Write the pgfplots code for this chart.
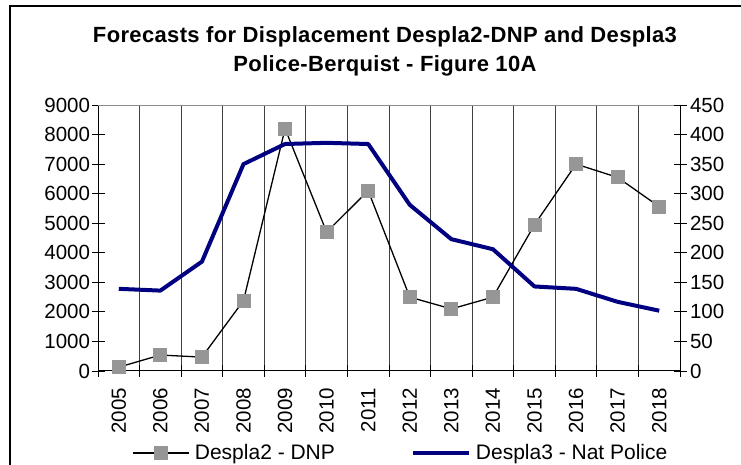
\documentclass[border=0pt]{standalone}
\usepackage{fontspec}
\setmainfont{Liberation Sans}
\newfontfamily\titlefont[LetterSpace=1.6]{Liberation Sans}
\usepackage{pgfplots}
\pgfplotsset{compat=1.18}
\definecolor{navyc}{RGB}{0,0,128}
\definecolor{sqgray}{RGB}{150,150,150}
\begin{document}
\begin{tikzpicture}
\useasboundingbox (0pt,0pt) rectangle (741pt,465pt);
\draw[line width=1.5pt] (10pt,-20pt) rectangle (800pt,459pt);
\node[font=\titlefont\bfseries\fontsize{22}{29}\selectfont, align=center] at (385pt,414pt) {Forecasts for Displacement Despla2-DNP and Despla3\\Police-Berquist - Figure 10A};
\pgfplotsset{
  common/.style={
    at={(98pt,94pt)}, anchor=south west, scale only axis,
    width=582pt, height=266pt,
    xmin=-0.5, xmax=13.5,
    tick align=center,
    major tick length=13pt, minor tick length=12pt,
    every tick/.style={black, line width=0.8pt},
    axis line style={black, line width=1pt},
    ticklabel style={font=\fontsize{20.5}{20.5}\selectfont},
    /pgf/number format/assume math mode=true,
    /pgf/number format/1000 sep={},
    clip=false,
  }
}
\begin{axis}[common,
  ymin=0, ymax=9000,
  axis x line*=bottom, axis y line*=left,
  ytick={0,1000,...,9000},
  yticklabel shift=-2pt,
  xtick={0,...,13},
  xticklabels={2005,2006,2007,2008,2009,2010,2011,2012,2013,2014,2015,2016,2017,2018},
  xticklabel style={rotate=90, anchor=east},
  xticklabel shift=7pt,
  major x tick style={draw=none},
  minor xtick={-0.5,0.5,...,13.5},
  xminorgrids,
  minor x grid style={black!75, line width=0.8pt},
  legend columns=2,
  legend style={at={(0.5206,-0.308)}, anchor=center, draw=none, fill=none,
    font=\fontsize{21}{21}\selectfont, column sep=3pt,
    /tikz/every even column/.append style={column sep=74pt}},
  legend image code/.code={
    \draw[#1] (0pt,0pt) -- (56pt,0pt);
    \draw[#1, mark repeat=2, mark phase=2] plot coordinates {(0pt,0pt) (28pt,0pt) (56pt,0pt)};
  },
]
\draw[black!45, line width=1pt] (rel axis cs:0,1) -- (rel axis cs:1,1);
\addplot[black, line width=1.3pt, mark=square*, mark size=6.5pt,
  mark options={draw=sqgray, fill=sqgray, line width=0pt}] coordinates {
(0,130) (1,540) (2,470) (3,2380) (4,8200) (5,4700) (6,6100) (7,2500)
(8,2100) (9,2500) (10,4950) (11,7000) (12,6550) (13,5560)
};
\addlegendentry{Despla2 - DNP}
\addlegendimage{navyc, line width=4pt}
\addlegendentry{Despla3 - Nat Police}
\end{axis}
\begin{axis}[common,
  ymin=0, ymax=450,
  axis x line=none, axis y line*=right,
  ytick={0,50,...,450},
]
\addplot[navyc, line width=4pt, line join=round] coordinates {
(0,139) (1,136) (2,185) (3,350) (4,384) (5,386) (6,384) (7,281)
(8,223) (9,206) (10,143) (11,139) (12,117) (13,102)
};
\end{axis}
\end{tikzpicture}
\end{document}
